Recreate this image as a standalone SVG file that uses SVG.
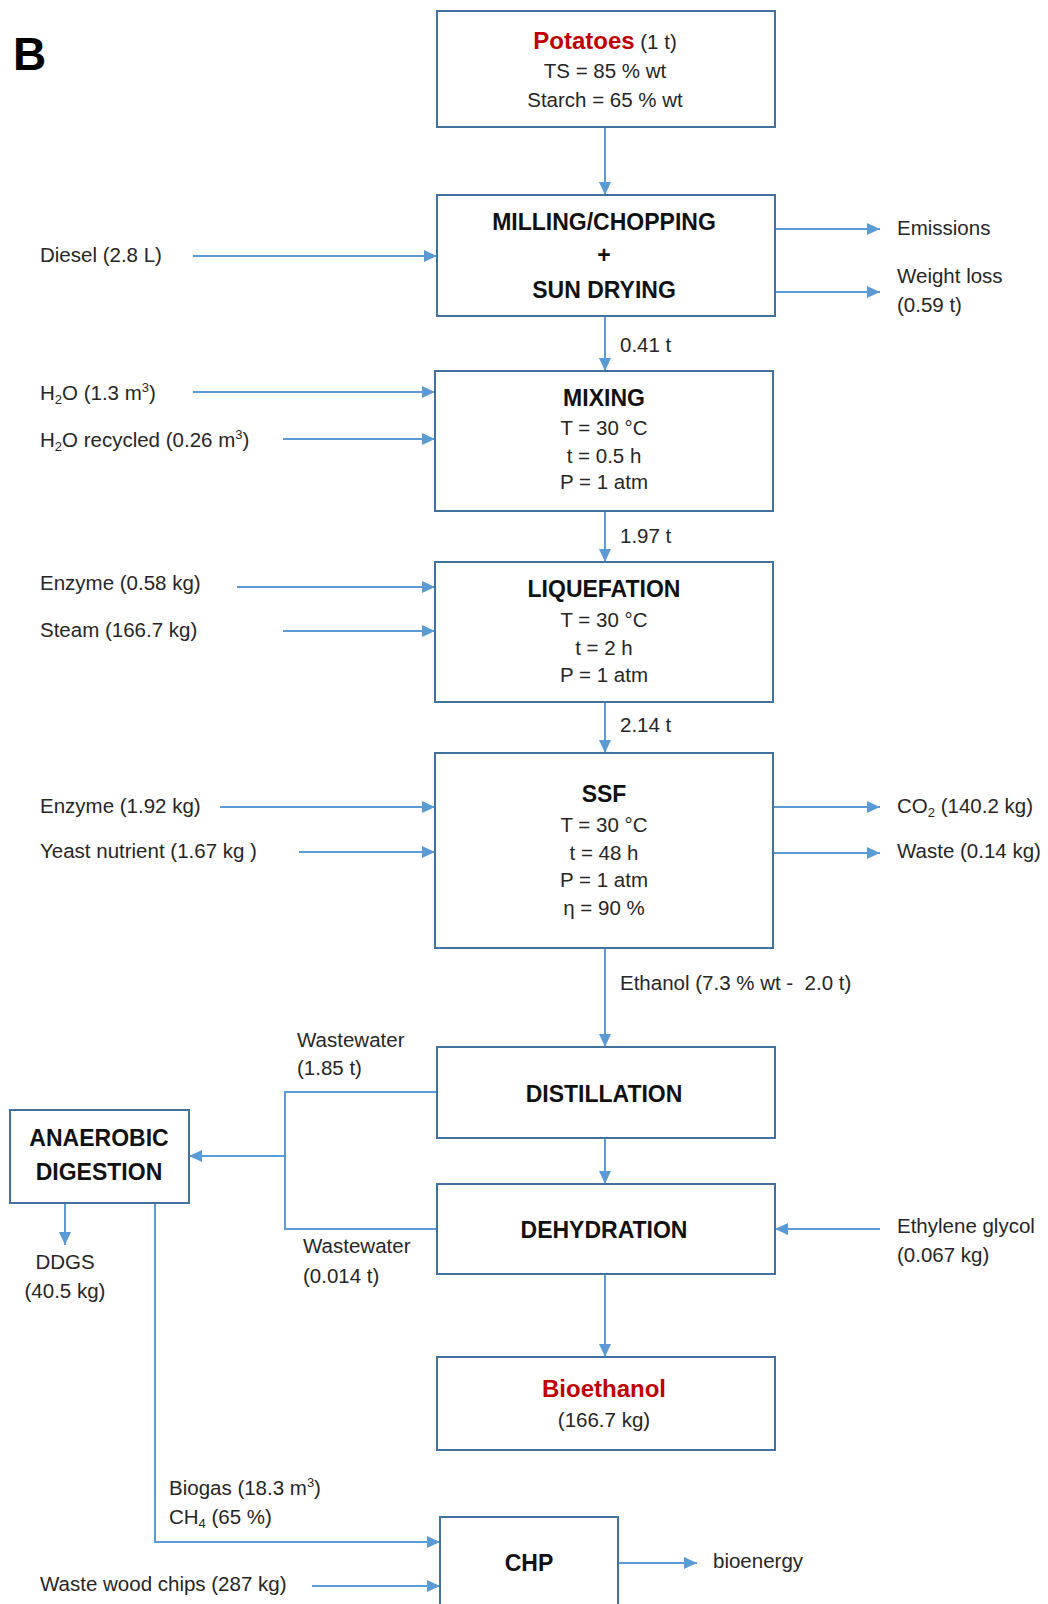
<svg xmlns="http://www.w3.org/2000/svg" width="1048" height="1604" viewBox="0 0 1048 1604">
<style>
.box{fill:#fff;stroke:#41719c;stroke-width:2}
.ln{fill:none;stroke:#5b9bd5;stroke-width:2}
.arr{marker-end:url(#ah)}
text{font-family:"Liberation Sans",Arial,sans-serif;fill:#262626;font-size:20.5px}
.c{text-anchor:middle}
.b{font-weight:bold;font-size:23px;fill:#111}
.red{fill:#c00000;font-weight:bold;font-size:24px}
.sub{font-size:13px}
</style>
<defs>
<marker id="ah" markerUnits="userSpaceOnUse" markerWidth="13" markerHeight="12" refX="13" refY="6" orient="auto">
<path d="M0,0 L13,6 L0,12 z" fill="#5b9bd5"/>
</marker>
</defs>
<rect width="1048" height="1604" fill="#fff"/>
<text x="13" y="70" style="font-size:46px;font-weight:bold;fill:#000">B</text>

<g id="connectors">
<line class="ln arr" x1="605" y1="127" x2="605" y2="195"/>
<line class="ln arr" x1="193" y1="256" x2="437" y2="256"/>
<line class="ln arr" x1="775" y1="229" x2="880" y2="229"/>
<line class="ln arr" x1="775" y1="292" x2="880" y2="292"/>
<line class="ln arr" x1="605" y1="316" x2="605" y2="371"/>
<line class="ln arr" x1="193" y1="392" x2="435" y2="392"/>
<line class="ln arr" x1="283" y1="439" x2="435" y2="439"/>
<line class="ln arr" x1="605" y1="511" x2="605" y2="562"/>
<line class="ln arr" x1="237" y1="587" x2="435" y2="587"/>
<line class="ln arr" x1="283" y1="631" x2="435" y2="631"/>
<line class="ln arr" x1="605" y1="702" x2="605" y2="753"/>
<line class="ln arr" x1="220" y1="807" x2="435" y2="807"/>
<line class="ln arr" x1="299" y1="852" x2="435" y2="852"/>
<line class="ln arr" x1="773" y1="807" x2="880" y2="807"/>
<line class="ln arr" x1="773" y1="853" x2="880" y2="853"/>
<line class="ln arr" x1="605" y1="948" x2="605" y2="1047"/>
<polyline class="ln" points="437,1092 285,1092 285,1229 437,1229"/>
<line class="ln arr" x1="285" y1="1156" x2="189" y2="1156"/>
<line class="ln arr" x1="605" y1="1138" x2="605" y2="1184"/>
<line class="ln arr" x1="880" y1="1229" x2="775" y2="1229"/>
<line class="ln arr" x1="65" y1="1203" x2="65" y2="1245"/>
<line class="ln arr" x1="605" y1="1274" x2="605" y2="1357"/>
<polyline class="ln arr" points="155,1203 155,1542 440,1542"/>
<line class="ln arr" x1="618" y1="1563" x2="697" y2="1563"/>
<line class="ln arr" x1="312" y1="1586" x2="440" y2="1586"/>
</g>

<g id="labels">
<text x="40" y="262">Diesel (2.8 L)</text>
<text x="897" y="235">Emissions</text>
<text x="897" y="283">Weight loss</text>
<text x="897" y="312">(0.59 t)</text>
<text x="620" y="352">0.41 t</text>
<text x="40" y="400">H<tspan class="sub" dy="4">2</tspan><tspan dy="-4">O (1.3 m</tspan><tspan class="sub" dy="-8">3</tspan><tspan dy="8">)</tspan></text>
<text x="40" y="447">H<tspan class="sub" dy="4">2</tspan><tspan dy="-4">O recycled (0.26 m</tspan><tspan class="sub" dy="-8">3</tspan><tspan dy="8">)</tspan></text>
<text x="620" y="543">1.97 t</text>
<text x="40" y="590">Enzyme (0.58 kg)</text>
<text x="40" y="637">Steam (166.7 kg)</text>
<text x="620" y="732">2.14 t</text>
<text x="40" y="813">Enzyme (1.92 kg)</text>
<text x="40" y="858">Yeast nutrient (1.67 kg )</text>
<text x="897" y="813">CO<tspan class="sub" dy="4">2</tspan><tspan dy="-4"> (140.2 kg)</tspan></text>
<text x="897" y="858">Waste (0.14 kg)</text>
<text x="620" y="990" xml:space="preserve">Ethanol (7.3 % wt -  2.0 t)</text>
<text x="297" y="1047">Wastewater</text>
<text x="297" y="1075">(1.85 t)</text>
<text x="303" y="1253">Wastewater</text>
<text x="303" y="1283">(0.014 t)</text>
<text x="897" y="1233">Ethylene glycol</text>
<text x="897" y="1262">(0.067 kg)</text>
<text class="c" x="65" y="1269">DDGS</text>
<text class="c" x="65" y="1298">(40.5 kg)</text>
<text x="169" y="1495">Biogas (18.3 m<tspan class="sub" dy="-8">3</tspan><tspan dy="8">)</tspan></text>
<text x="169" y="1524">CH<tspan class="sub" dy="4">4</tspan><tspan dy="-4"> (65 %)</tspan></text>
<text x="713" y="1568">bioenergy</text>
<text x="40" y="1591">Waste wood chips (287 kg)</text>
</g>

<g id="potatoes">
<rect class="box" x="437" y="11" width="338" height="116"/>
<text class="c" x="605" y="49"><tspan class="red">Potatoes</tspan> (1 t)</text>
<text class="c" x="605" y="78">TS = 85 % wt</text>
<text class="c" x="605" y="107">Starch = 65 % wt</text>
</g>

<g id="milling">
<rect class="box" x="437" y="195" width="338" height="121"/>
<text class="c b" x="604" y="230">MILLING/CHOPPING</text>
<text class="c b" x="604" y="263">+</text>
<text class="c b" x="604" y="298">SUN DRYING</text>
</g>

<g id="mixing">
<rect class="box" x="435" y="371" width="338" height="140"/>
<text class="c b" x="604" y="406">MIXING</text>
<text class="c" x="604" y="435">T = 30 °C</text>
<text class="c" x="604" y="463">t = 0.5 h</text>
<text class="c" x="604" y="489">P = 1 atm</text>
</g>

<g id="liquefation">
<rect class="box" x="435" y="562" width="338" height="140"/>
<text class="c b" x="604" y="597">LIQUEFATION</text>
<text class="c" x="604" y="627">T = 30 °C</text>
<text class="c" x="604" y="655">t = 2 h</text>
<text class="c" x="604" y="682">P = 1 atm</text>
</g>

<g id="ssf">
<rect class="box" x="435" y="753" width="338" height="195"/>
<text class="c b" x="604" y="802">SSF</text>
<text class="c" x="604" y="832">T = 30 °C</text>
<text class="c" x="604" y="860">t = 48 h</text>
<text class="c" x="604" y="887">P = 1 atm</text>
<text class="c" x="604" y="915">η = 90 %</text>
</g>

<g id="distillation">
<rect class="box" x="437" y="1047" width="338" height="91"/>
<text class="c b" x="604" y="1102">DISTILLATION</text>
</g>

<g id="anaerobic">
<rect class="box" x="10" y="1110" width="179" height="93"/>
<text class="c b" x="99" y="1146">ANAEROBIC</text>
<text class="c b" x="99" y="1180">DIGESTION</text>
</g>

<g id="dehydration">
<rect class="box" x="437" y="1184" width="338" height="90"/>
<text class="c b" x="604" y="1238">DEHYDRATION</text>
</g>

<g id="bioethanol">
<rect class="box" x="437" y="1357" width="338" height="93"/>
<text class="c red" x="604" y="1397">Bioethanol</text>
<text class="c" x="604" y="1427">(166.7 kg)</text>
</g>

<g id="chp">
<rect class="box" x="440" y="1517" width="178" height="100"/>
<text class="c b" x="529" y="1571">CHP</text>
</g>
</svg>
